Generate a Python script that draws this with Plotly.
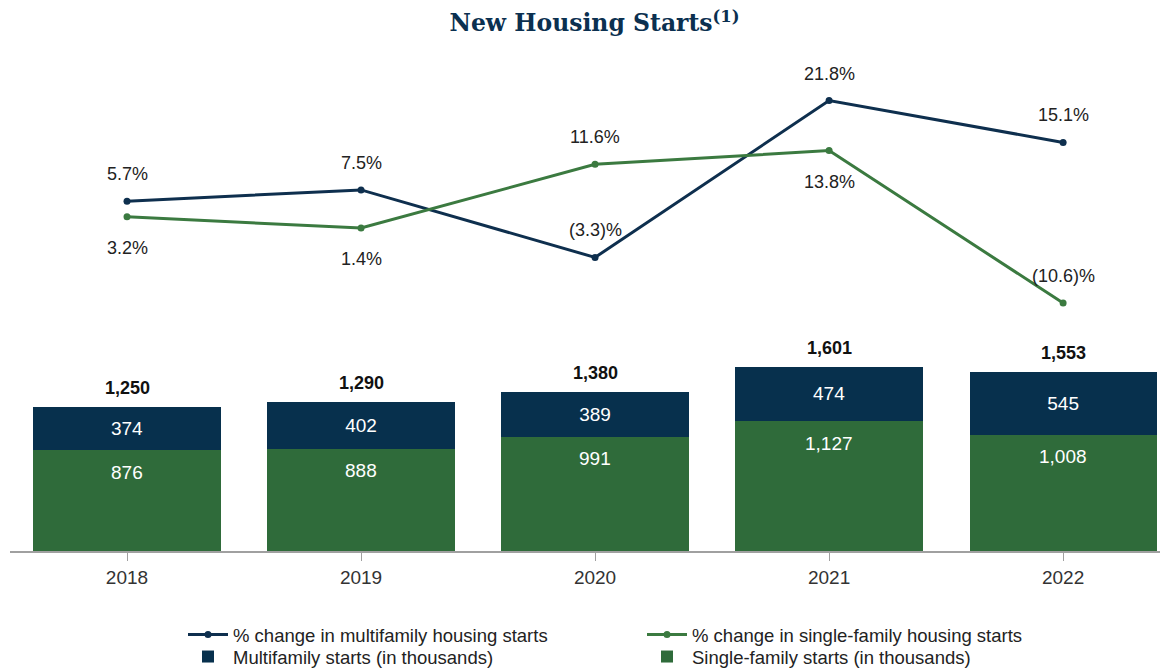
import plotly.graph_objects as go

years = ["2018", "2019", "2020", "2021", "2022"]
multifamily = [374, 402, 389, 474, 545]
single_family = [876, 888, 991, 1127, 1008]
mf_change = [5.7, 7.5, -3.3, 21.8, 15.1]
sf_change = [3.2, 1.4, 11.6, 13.8, -10.6]
mf_label_pos = ["above", "above", "above", "above", "above"]
sf_label_pos = ["below", "below", "above", "below", "above"]

NAVY = "#07304d"
GREEN = "#2f6b3a"
LNAVY = "#0e2f4e"
LGREEN = "#3b7a40"
FONT = "Liberation Sans, Arial, sans-serif"

# page has an 8px body margin; figure sized to fit the 1173x670 window
W, H = 1165, 662

totals = [a + b for a, b in zip(multifamily, single_family)]


def pct(v):
    return f"({abs(v):.1f})%" if v < 0 else f"{v:.1f}%"


fig = go.Figure()
fig.add_trace(go.Scatter(
    x=years, y=mf_change, yaxis="y2", mode="lines+markers",
    name="% change in multifamily housing starts", legend="legend", legendrank=1,
    line=dict(color=LNAVY, width=3), marker=dict(size=7, color=LNAVY)))
fig.add_trace(go.Scatter(
    x=years, y=sf_change, yaxis="y2", mode="lines+markers",
    name="% change in single-family housing starts", legend="legend", legendrank=2,
    line=dict(color=LGREEN, width=3), marker=dict(size=7, color=LGREEN)))
fig.add_trace(go.Bar(
    x=years, y=single_family, name="Single-family starts (in thousands)",
    legend="legend2", legendrank=2,
    marker=dict(color=GREEN, line=dict(width=0)),
    width=0.8))
fig.add_trace(go.Bar(
    x=years, y=multifamily, name="Multifamily starts (in thousands)",
    legend="legend2", legendrank=1,
    marker=dict(color=NAVY, line=dict(width=0)),
    text=[f"{v:,}" for v in multifamily], textposition="inside",
    insidetextanchor="middle", textfont=dict(color="white", size=19, family=FONT),
    width=0.8))

annotations = []
for i, v in enumerate(single_family):
    annotations.append(dict(x=i, y=v, xref="x", yref="y", text=f"{v:,}",
                            showarrow=False, yshift=-22,
                            font=dict(size=19, color="white", family=FONT)))
for i, t in enumerate(totals):
    annotations.append(dict(x=i, y=t, xref="x", yref="y", text=f"<b>{t:,}</b>",
                            showarrow=False, yshift=19,
                            font=dict(size=18, color="#111111", family=FONT)))
for vals, poss in ((mf_change, mf_label_pos), (sf_change, sf_label_pos)):
    for i, (v, p) in enumerate(zip(vals, poss)):
        annotations.append(dict(x=i, y=v, xref="x", yref="y2", text=pct(v),
                                showarrow=False, yshift=27 if p == "above" else -31,
                                font=dict(size=18, color="#222222", family=FONT)))

legend_common = dict(orientation="h", xref="container", yref="container",
                     x=175 / W, xanchor="left", yanchor="top",
                     entrywidth=404, tracegroupgap=0, itemwidth=40,
                     font=dict(size=18.5, color="#222222", family=FONT),
                     traceorder="normal", bgcolor="rgba(0,0,0,0)")

fig.update_layout(
    width=W, height=H,
    paper_bgcolor="white", plot_bgcolor="white",
    barmode="stack",
    margin=dict(l=2, r=13, t=52, b=119, autoexpand=False),
    title=dict(text="<b>New Housing Starts<sup>(1)</sup></b>", x=586.5 / W, xanchor="center",
               y=1 - 7 / H, yanchor="top",
               font=dict(family="DejaVu Serif, Georgia, serif", size=23.5, color="#0b3050")),
    xaxis=dict(type="category", range=[-0.5, 4.414], showline=True, linecolor="#a0a0a0",
               linewidth=2, ticks="outside", ticklen=8, tickcolor="#a0a0a0", tickwidth=1,
               tickfont=dict(size=19, color="#333333", family=FONT),
               showgrid=False, zeroline=False, automargin=False),
    yaxis=dict(range=[0, 4262], visible=False, showgrid=False, zeroline=False),
    yaxis2=dict(range=[-50.3, 28.3], overlaying="y", visible=False, showgrid=False,
                zeroline=False),
    annotations=annotations,
    showlegend=True,
    legend=dict(legend_common, y=1 - 608 / H),
    legend2=dict(legend_common, y=1 - 630 / H),
)

fig.write_html("out.html")
